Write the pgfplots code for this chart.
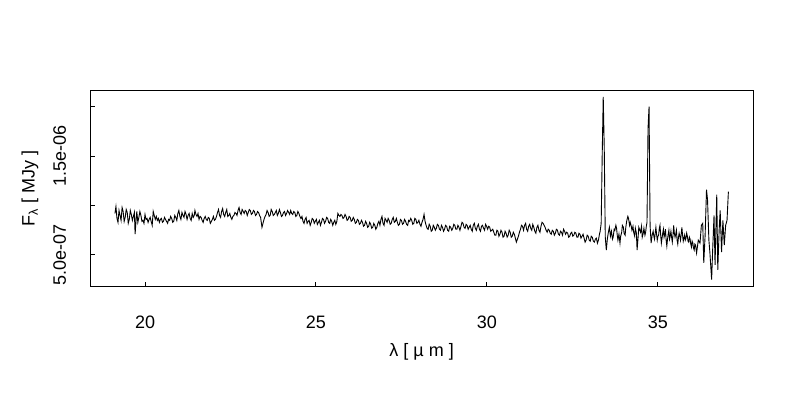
\documentclass[border=0pt]{standalone}
\usepackage{fontspec}
\setmainfont{Liberation Sans}
\usepackage{pgfplots}
\pgfplotsset{compat=1.18}
\pgfplotstableread{
x y
19.12 9.2
19.15 9.9
19.18 8.7
19.21 8.3
19.24 9.5
19.27 9.0
19.30 8.5
19.33 9.8
19.36 9.4
19.39 8.4
19.42 8.8
19.45 9.6
19.48 9.3
19.51 8.2
19.54 8.6
19.57 9.5
19.60 9.1
19.63 8.5
19.66 8.9
19.69 9.3
19.71 7.1
19.74 8.6
19.76 9.4
19.79 8.3
19.82 8.8
19.85 9.4
19.88 9.0
19.91 8.4
19.94 8.5
19.97 8.2
20.00 9.1
20.03 8.6
20.06 8.7
20.09 8.3
20.12 8.6
20.15 8.8
20.18 8.4
20.21 8.0
20.24 9.4
20.27 9.0
20.30 8.6
20.33 8.9
20.36 8.5
20.39 8.7
20.42 8.3
20.45 8.6
20.48 8.7
20.51 8.3
20.54 8.4
20.57 8.8
20.60 8.6
20.63 8.4
20.66 8.2
20.69 8.6
20.72 8.5
20.75 8.9
20.78 8.7
20.81 8.3
20.84 8.4
20.87 9.0
20.90 8.8
20.93 8.5
20.96 9.2
20.99 9.5
21.02 8.9
21.05 8.6
21.08 9.3
21.11 9.0
21.14 8.8
21.17 9.4
21.20 9.1
21.23 8.6
21.26 9.0
21.29 9.2
21.32 8.7
21.35 8.5
21.38 9.2
21.41 8.8
21.44 9.0
21.46 9.5
21.49 9.1
21.52 8.9
21.55 9.2
21.58 8.6
21.61 8.9
21.64 8.8
21.67 8.5
21.70 8.3
21.73 8.7
21.76 8.9
21.79 8.6
21.82 8.5
21.85 8.8
21.88 8.7
21.91 8.2
21.94 8.4
21.97 8.6
22.00 8.9
22.03 8.5
22.06 8.6
22.09 8.9
22.12 9.3
22.15 9.6
22.18 9.0
22.21 8.8
22.24 9.4
22.27 9.7
22.30 9.1
22.33 8.9
22.36 9.3
22.39 9.6
22.42 8.9
22.45 9.0
22.48 9.2
22.51 8.8
22.54 8.6
22.57 8.9
22.60 9.0
22.63 9.3
22.66 9.2
22.69 9.0
22.72 9.5
22.75 9.8
22.78 9.3
22.81 9.1
22.84 9.6
22.87 9.4
22.90 9.2
22.93 9.5
22.96 9.4
22.99 9.0
23.02 9.3
23.05 9.6
23.08 9.5
23.11 9.1
23.14 9.2
23.17 9.5
23.20 9.4
23.23 9.0
23.26 9.1
23.29 9.4
23.32 9.3
23.35 9.0
23.38 8.8
23.40 8.3
23.42 7.8
23.45 8.2
23.48 8.6
23.51 8.9
23.54 9.1
23.57 9.5
23.60 9.3
23.63 8.9
23.66 9.0
23.69 9.6
23.72 9.4
23.75 9.0
23.78 9.1
23.81 9.3
23.84 9.5
23.87 9.0
23.90 9.2
23.93 9.6
23.96 9.3
23.99 8.9
24.02 9.0
24.05 9.3
24.08 9.4
24.11 9.0
24.14 9.2
24.17 9.5
24.20 9.3
24.23 9.1
24.26 9.5
24.29 9.2
24.32 9.1
24.35 9.4
24.38 9.3
24.41 8.9
24.44 9.0
24.47 9.4
24.50 9.2
24.53 8.9
24.56 8.7
24.59 8.9
24.62 8.4
24.65 8.2
24.68 8.6
24.71 8.8
24.74 8.2
24.77 8.4
24.80 8.5
24.83 8.0
24.86 8.3
24.89 8.7
24.92 8.6
24.95 8.2
24.98 8.4
25.01 8.6
25.04 8.1
25.07 8.3
25.10 8.5
25.13 8.0
25.16 8.3
25.19 8.7
25.22 8.6
25.25 8.2
25.28 8.4
25.31 8.8
25.34 8.7
25.37 8.3
25.40 8.2
25.43 8.6
25.46 8.4
25.49 8.0
25.52 8.3
25.55 8.5
25.58 8.1
25.61 8.4
25.64 9.2
25.67 9.0
25.70 8.9
25.73 9.1
25.76 9.0
25.79 8.7
25.82 8.8
25.85 9.1
25.88 8.9
25.91 8.5
25.94 8.6
25.97 8.9
26.00 8.8
26.03 8.4
26.06 8.5
26.09 8.8
26.12 8.6
26.15 8.2
26.18 8.3
26.21 8.6
26.24 8.5
26.27 8.1
26.30 8.2
26.33 8.5
26.36 8.3
26.39 7.9
26.42 8.0
26.45 8.4
26.48 8.2
26.51 7.8
26.54 7.9
26.57 8.3
26.60 8.1
26.63 7.7
26.66 7.8
26.69 8.2
26.72 8.0
26.75 7.6
26.78 7.8
26.81 8.2
26.84 8.4
26.87 8.0
26.90 8.6
26.93 8.9
26.96 8.2
26.99 8.0
27.02 8.7
27.05 8.5
27.08 8.3
27.11 8.7
27.14 8.5
27.17 8.1
27.20 8.2
27.23 8.6
27.26 8.8
27.29 8.3
27.32 8.4
27.35 8.7
27.38 8.3
27.41 8.0
27.44 8.1
27.47 8.6
27.50 8.5
27.53 8.1
27.56 8.2
27.59 8.6
27.62 8.4
27.65 8.1
27.68 8.0
27.71 8.5
27.74 8.4
27.77 8.7
27.80 8.5
27.83 8.1
27.86 8.2
27.89 8.7
27.92 8.6
27.95 8.2
27.98 8.3
28.01 8.5
28.04 8.1
28.07 7.9
28.10 8.3
28.13 8.6
28.16 9.1
28.19 8.4
28.22 8.0
28.25 7.7
28.28 7.6
28.31 8.1
28.34 7.9
28.37 7.4
28.40 7.5
28.43 8.0
28.46 7.8
28.49 7.5
28.52 7.7
28.55 8.1
28.58 8.0
28.61 7.6
28.64 7.5
28.67 8.0
28.70 7.8
28.73 7.4
28.76 7.6
28.79 8.0
28.82 7.9
28.85 7.5
28.88 7.4
28.91 7.9
28.94 7.8
28.97 7.5
29.00 7.7
29.03 8.1
29.06 8.0
29.09 7.6
29.12 7.6
29.15 8.0
29.18 7.8
29.21 7.5
29.24 7.9
29.27 8.3
29.30 8.2
29.33 7.8
29.36 7.7
29.39 8.1
29.42 8.0
29.45 7.6
29.48 7.8
29.51 8.0
29.54 7.6
29.57 7.4
29.60 8.0
29.63 8.2
29.66 7.7
29.69 7.5
29.72 7.9
29.75 8.1
29.78 7.6
29.81 7.4
29.84 7.9
29.87 8.0
29.90 7.7
29.93 7.5
29.96 8.1
29.99 7.9
30.02 7.6
30.05 7.9
30.08 7.8
30.11 7.4
30.14 7.5
30.17 7.6
30.20 7.3
30.23 7.0
30.26 7.0
30.29 7.5
30.32 7.4
30.35 6.9
30.38 7.1
30.41 7.5
30.44 7.3
30.47 6.8
30.50 6.9
30.53 7.4
30.56 7.2
30.59 6.8
30.62 7.0
30.65 7.5
30.68 7.3
30.71 6.8
30.74 6.9
30.77 7.3
30.80 7.1
30.83 6.7
30.86 6.3
30.89 6.6
30.92 6.9
30.95 7.3
30.98 7.6
31.01 8.0
31.04 7.9
31.07 7.5
31.10 8.0
31.13 8.2
31.16 7.6
31.19 7.4
31.22 7.9
31.25 8.1
31.28 7.7
31.31 7.5
31.34 8.1
31.37 7.8
31.40 7.4
31.43 7.2
31.46 7.8
31.49 8.0
31.52 7.5
31.55 7.3
31.58 7.9
31.61 8.3
31.64 8.2
31.67 8.0
31.70 7.8
31.73 7.5
31.76 7.3
31.79 7.6
31.82 7.5
31.85 7.2
31.88 7.1
31.91 7.5
31.94 7.4
31.97 7.0
32.00 7.2
32.03 7.6
32.06 7.5
32.09 7.1
32.12 7.0
32.15 7.4
32.18 7.3
32.21 7.0
32.24 7.6
32.27 7.4
32.30 7.1
32.33 7.3
32.36 7.2
32.39 6.8
32.42 6.9
32.45 7.2
32.48 7.3
32.51 6.9
32.54 7.0
32.57 7.3
32.60 7.2
32.63 6.8
32.66 6.8
32.69 7.2
32.72 7.1
32.75 6.7
32.78 6.9
32.81 7.1
32.84 6.7
32.87 6.3
32.90 6.5
32.93 7.0
32.96 6.9
32.99 6.5
33.02 6.4
33.05 6.9
33.08 6.8
33.11 6.4
33.14 6.3
33.17 6.6
33.20 6.7
33.23 6.2
33.26 6.5
33.29 7.1
33.31 7.4
33.34 8.2
33.37 15.1
33.40 21.0
33.43 15.8
33.46 6.8
33.49 5.5
33.52 6.6
33.55 7.3
33.58 7.8
33.61 6.9
33.64 7.4
33.67 6.6
33.69 6.8
33.72 7.6
33.74 7.5
33.77 8.0
33.79 7.7
33.81 7.0
33.83 6.5
33.86 7.1
33.89 6.2
33.91 6.9
33.94 7.3
33.96 8.0
33.99 7.8
34.01 7.2
34.04 7.0
34.06 7.8
34.09 8.5
34.12 8.9
34.14 8.7
34.17 8.0
34.19 8.3
34.22 7.9
34.24 7.5
34.27 7.9
34.29 7.3
34.32 6.9
34.34 7.7
34.37 7.2
34.39 5.5
34.42 6.8
34.44 7.8
34.47 7.5
34.49 7.3
34.52 7.9
34.54 6.8
34.57 7.2
34.59 7.7
34.62 7.0
34.64 7.3
34.66 7.9
34.68 8.3
34.71 17.8
34.74 20.0
34.77 8.0
34.80 6.2
34.83 7.0
34.86 7.4
34.88 6.9
34.90 6.6
34.92 7.2
34.94 7.8
34.96 7.1
34.98 6.5
35.00 6.9
35.02 7.0
35.04 7.7
35.06 8.0
35.08 7.0
35.10 6.2
35.12 6.7
35.14 7.2
35.16 7.6
35.18 6.8
35.20 7.1
35.22 7.6
35.24 6.5
35.26 5.9
35.28 6.6
35.30 7.1
35.32 7.5
35.34 6.6
35.36 6.9
35.38 7.4
35.40 6.8
35.42 6.3
35.44 7.0
35.46 8.0
35.48 7.2
35.50 6.8
35.52 7.1
35.54 7.5
35.56 6.5
35.58 6.1
35.60 6.8
35.62 7.2
35.64 6.9
35.66 6.5
35.68 7.1
35.70 7.8
35.72 7.0
35.74 6.4
35.76 6.7
35.78 7.0
35.80 6.5
35.82 6.7
35.84 7.2
35.86 6.9
35.88 6.4
35.90 6.3
35.92 6.8
35.94 6.6
35.96 6.1
35.98 5.8
36.00 6.4
36.02 6.2
36.04 5.7
36.06 5.5
36.08 6.1
36.10 6.0
36.13 5.2
36.18 6.5
36.23 6.2
36.27 8.0
36.31 8.2
36.34 4.2
36.38 7.0
36.42 11.6
36.45 10.6
36.49 6.5
36.52 5.2
36.57 2.5
36.60 5.5
36.64 9.0
36.67 4.0
36.72 11.1
36.75 3.5
36.79 7.5
36.82 9.5
36.86 5.3
36.90 8.5
36.94 6.0
36.98 8.0
37.02 8.5
37.06 11.4
}\spectrum
\begin{document}
\begin{tikzpicture}[x=1pt,y=1pt]
\path[use as bounding box] (0,0) rectangle (800,400);
\begin{axis}[
  at={(90.3pt,113.3pt)}, anchor=south west,
  scale only axis, width=662.7pt, height=196.7pt,
  xmin=18.40, xmax=37.78, ymin=1.79, ymax=21.69,
  font=\fontsize{18}{20}\selectfont,
  axis line style={line width=1pt},
  tick style={line width=1pt, black},
  tick align=inside, major tick length=5pt,
  xtick pos=bottom, ytick pos=left,
  xtick={20,25,30,35},
  ytick={5,10,15,20}, yticklabels={5.0e-07,,1.5e-06,},
  /pgf/number format/assume math mode=true,
  xticklabel style={anchor=north, inner sep=0pt},
  xticklabel shift=29pt,
  yticklabel style={rotate=90, anchor=south, inner sep=0pt},
  yticklabel shift=24pt,
  xlabel={λ [ µ m ]},
  ylabel={F\textsubscript{λ} [ MJy ]},
  xlabel style={at={(axis description cs:0.5,-0.332)}, anchor=center},
  ylabel style={at={(axis description cs:-0.091,0.5)}, anchor=center, rotate=0},
]
\addplot[black, line width=0.9pt, mark=none] table {\spectrum};
\end{axis}
\end{tikzpicture}
\end{document}
